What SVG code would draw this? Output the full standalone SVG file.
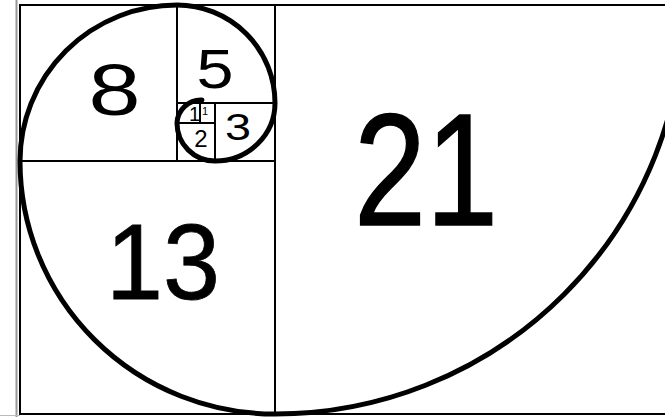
<svg xmlns="http://www.w3.org/2000/svg" width="665" height="417" viewBox="0 0 665 417">
<style>
.sq{fill:none;stroke:#000;stroke-width:2}
.lbl{font-family:"Liberation Sans",Arial,sans-serif;fill:#000;text-anchor:middle}
.spiral{fill:none;stroke:#000;stroke-width:5;stroke-linecap:round}
</style>
<rect width="665" height="417" fill="#fff"/>
<line x1="16.5" y1="0" x2="16.5" y2="417" stroke="#999" stroke-width="2"/>
<line x1="0" y1="415.5" x2="20" y2="415.5" stroke="#bbb" stroke-width="1"/>
<g id="frame"><rect class="sq" x="20" y="5" width="670" height="409"/></g>
<g id="sq21"><rect class="sq" x="275" y="5" width="415" height="409"/><text class="lbl" x="426" y="225" font-size="160" stroke="#000" stroke-width="1.5" textLength="144" lengthAdjust="spacingAndGlyphs">21</text></g>
<g id="sq13"><rect class="sq" x="20" y="161" width="255" height="253"/><text class="lbl" x="163" y="299" font-size="108" stroke="#000" stroke-width="0.8" textLength="114" lengthAdjust="spacingAndGlyphs">13</text></g>
<g id="sq8"><rect class="sq" x="20" y="5" width="157" height="156"/><text class="lbl" x="114.5" y="115" font-size="72" textLength="52" lengthAdjust="spacingAndGlyphs">8</text></g>
<g id="sq5"><rect class="sq" x="177" y="5" width="98" height="98"/><text class="lbl" x="215" y="88" font-size="56" textLength="37" lengthAdjust="spacingAndGlyphs">5</text></g>
<g id="sq3"><rect class="sq" x="215" y="103" width="60" height="58"/><text class="lbl" x="238" y="140" font-size="37" textLength="26" lengthAdjust="spacingAndGlyphs">3</text></g>
<g id="sq2"><rect class="sq" x="177" y="123" width="38" height="38"/><text class="lbl" x="201" y="147" font-size="24">2</text></g>
<g id="sq1a"><rect class="sq" x="177" y="103" width="23" height="20"/><text class="lbl" x="194.5" y="121" font-size="20">1</text></g>
<g id="sq1b"><rect class="sq" x="200" y="103" width="15" height="20"/><text class="lbl" x="205" y="115" font-size="11">1</text></g>
<g id="connectors">
<path class="spiral" d="M 684,5 A 409 409 0 0 1 275,414 A 255 253 0 0 1 20,161 A 157 156 0 0 1 177,5 A 98 98 0 0 1 275,103 A 60 58 0 0 1 215,161 A 38 38 0 0 1 177,123 A 24 24 0 0 1 202,100"/>
</g>
</svg>
